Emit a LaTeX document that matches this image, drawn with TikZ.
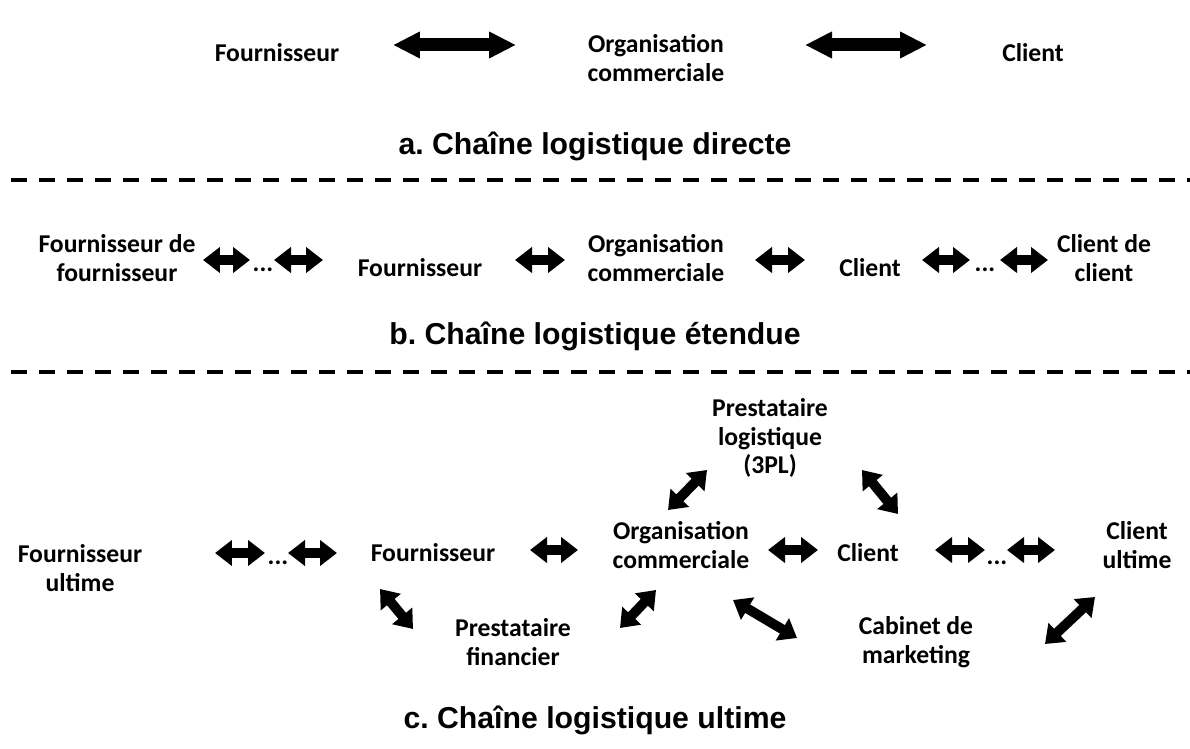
\documentclass[tikz,border=0pt]{standalone}
\usepackage{fontspec}
\setmainfont{Carlito}
\newfontfamily\captionfont{Liberation Sans}
\usetikzlibrary{arrows.meta}
\frenchspacing

\tikzset{
  actor/.style={font=\bfseries\fontsize{14.6}{16.2}\selectfont, align=center, inner sep=0pt},
  legend/.style={font=\captionfont\bfseries\fontsize{17.2}{20}\selectfont, inner sep=0pt},
  bigarrow/.style={line width=7.4pt, {Triangle[length=0.54cm,width=0.5cm]}-{Triangle[length=0.54cm,width=0.5cm]}},
  smallarrow/.style={line width=5.6pt, {Triangle[length=0.34cm,width=0.5cm]}-{Triangle[length=0.34cm,width=0.5cm]}},
  separator/.style={line width=2.3pt, dash pattern=on 0.32cm off 0.24cm},
}

\begin{document}
\begin{tikzpicture}[x=0.02cm, y=-0.02cm]
    \useasboundingbox (0,0) rectangle (1190,749);

    % a. directe
    \node[actor] (fa) at (277,53) {Fournisseur};
    \node[actor] (oa) at (656,58) {Organisation\\commerciale};
    \node[actor] (ca) at (1033,53) {Client};
    \coordinate (a1) at (393,45);
    \coordinate (a2) at (516,45);
    \coordinate (a3) at (805,45);
    \coordinate (a4) at (927,45);
    \draw[bigarrow] (a1) -- (a2);
    \draw[bigarrow] (a3) -- (a4);
    \node[legend] (la) at (595,146) {a. Chaîne logistique directe};

    \coordinate (s1l) at (11,180);
    \coordinate (s1r) at (1190,180);
    \draw[separator] (s1l) -- (s1r);

    % b. etendue
    \node[actor] (ffb) at (117,258) {Fournisseur de\\fournisseur};
    \node[actor] (d1b) at (263,270) {...};
    \node[actor] (fb) at (420,268) {Fournisseur};
    \node[actor] (ob) at (656,258) {Organisation\\commerciale};
    \node[actor] (cb) at (870,268) {Client};
    \node[actor] (d2b) at (985,270) {...};
    \node[actor] (ccb) at (1104,258) {Client de\\client};
    \coordinate (b1) at (203,260);
    \coordinate (b2) at (250,260);
    \coordinate (b3) at (274,260);
    \coordinate (b4) at (323,260);
    \coordinate (b5) at (515,260);
    \coordinate (b6) at (565,260);
    \coordinate (b7) at (755,260);
    \coordinate (b8) at (805,260);
    \coordinate (b9) at (922,260);
    \coordinate (b10) at (970,260);
    \coordinate (b11) at (1000,260);
    \coordinate (b12) at (1048,260);
    \draw[smallarrow] (b1) -- (b2);
    \draw[smallarrow] (b3) -- (b4);
    \draw[smallarrow] (b5) -- (b6);
    \draw[smallarrow] (b7) -- (b8);
    \draw[smallarrow] (b9) -- (b10);
    \draw[smallarrow] (b11) -- (b12);
    \node[legend] (lb) at (595,336) {b. Chaîne logistique étendue};

    \coordinate (s2l) at (11,372);
    \coordinate (s2r) at (1190,372);
    \draw[separator] (s2l) -- (s2r);

    % c. ultime
    \node[actor] (pl) at (770,438) {Prestataire\\logistique\\(3PL)};
    \node[actor] (fuc) at (80,568) {Fournisseur\\ultime};
    \node[actor] (d1c) at (278,563) {...};
    \node[actor] (fc) at (433,553) {Fournisseur};
    \node[actor] (oc) at (681,545) {Organisation\\commerciale};
    \node[actor] (cc) at (868,553) {Client};
    \node[actor] (d2c) at (997,563) {...};
    \node[actor] (cuc) at (1137,545) {Client\\ultime};
    \node[actor] (pf) at (513,642) {Prestataire\\financier};
    \node[actor] (cm) at (916,642) {Cabinet de\\marketing};
    \coordinate (c1) at (215,553);
    \coordinate (c2) at (265,553);
    \coordinate (c3) at (288,553);
    \coordinate (c4) at (337,553);
    \coordinate (c5) at (530,550);
    \coordinate (c6) at (578,550);
    \coordinate (c7) at (768,550);
    \coordinate (c8) at (818,550);
    \coordinate (c9) at (935,550);
    \coordinate (c10) at (985,550);
    \coordinate (c11) at (1007,550);
    \coordinate (c12) at (1055,550);
    \coordinate (d1) at (668,510);
    \coordinate (d2) at (707,470);
    \coordinate (d3) at (862,470);
    \coordinate (d4) at (898,514);
    \coordinate (d5) at (380,589);
    \coordinate (d6) at (413,629);
    \coordinate (d7) at (656,590);
    \coordinate (d8) at (620,628);
    \coordinate (d9) at (733,600);
    \coordinate (d10) at (797,638);
    \coordinate (d11) at (1095,597);
    \coordinate (d12) at (1045,644);
    \draw[smallarrow] (c1) -- (c2);
    \draw[smallarrow] (c3) -- (c4);
    \draw[smallarrow] (c5) -- (c6);
    \draw[smallarrow] (c7) -- (c8);
    \draw[smallarrow] (c9) -- (c10);
    \draw[smallarrow] (c11) -- (c12);
    \draw[smallarrow] (d1) -- (d2);
    \draw[smallarrow] (d3) -- (d4);
    \draw[smallarrow] (d5) -- (d6);
    \draw[smallarrow] (d7) -- (d8);
    \draw[smallarrow] (d9) -- (d10);
    \draw[smallarrow] (d11) -- (d12);
    \node[legend] (lc) at (595,720) {c. Chaîne logistique ultime};
\end{tikzpicture}
\end{document}
